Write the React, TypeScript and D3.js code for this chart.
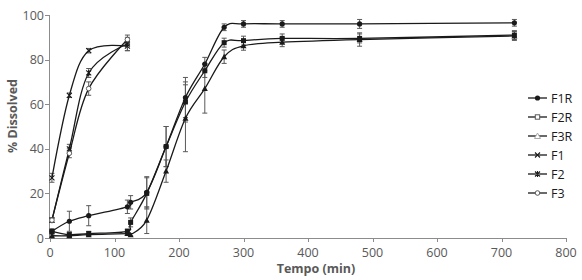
import React from 'react';
import * as d3 from 'd3';

// Sampling times (min)
const timesR = [3, 30, 60, 120, 125, 150, 180, 210, 240, 270, 300, 360, 480, 720];
const timesI = [3, 30, 60, 120];

// % dissolved, mean and SD
const f1r = [3, 7.5, 10, 14, 16, 20.5, 41, 63, 78, 94.5, 96, 96, 96, 96.5];
const f1rErr = [1, 4.5, 4.5, 3, 3, 7, 9, 9, 3, 1.5, 1.5, 1.5, 2, 1.5];
const f2r = [3, 1.5, 2, 3, 7, 20, 41, 61, 75, 87.6, 88.5, 89.5, 89.5, 91];
const f2rErr = [1, 1, 1, 1, 2, 7, 9, 9, 3, 2, 2, 2, 2, 2];
const f3r = [1, 1, 1.5, 2, 1.5, 8, 30, 53.7, 67, 81.3, 86.2, 87.8, 89, 90.6];
const f3rErr = [0.5, 0.5, 0.5, 0.5, 0.5, 6, 5, 15, 11, 3, 2, 2, 3, 2];
const f1 = [27, 64, 84, 86];
const f1Err = [2, 1, 1, 2];
const f2 = [8, 40, 74, 87];
const f2Err = [1, 2, 2, 3];
const f3 = [8, 38, 67, 89];
const f3Err = [1, 2, 3, 2];

const xTicks = [0, 100, 200, 300, 400, 500, 600, 700, 800];
const yTicks = [0, 20, 40, 60, 80, 100];

type Marker = 'dot' | 'square' | 'triangle' | 'cross' | 'star' | 'ring';

const series = [
  { name: 'F1R', t: timesR, v: f1r, e: f1rErr, m: 'dot' as Marker },
  { name: 'F2R', t: timesR, v: f2r, e: f2rErr, m: 'square' as Marker },
  { name: 'F3R', t: timesR, v: f3r, e: f3rErr, m: 'triangle' as Marker },
  { name: 'F1', t: timesI, v: f1, e: f1Err, m: 'cross' as Marker },
  { name: 'F2', t: timesI, v: f2, e: f2Err, m: 'star' as Marker },
  { name: 'F3', t: timesI, v: f3, e: f3Err, m: 'ring' as Marker },
];

const W = 582;
const H = 280;
const INK = '#1a1a1a';
const GREY = '#595959';
const FONT = '"Open Sans", sans-serif';

const x = d3.scaleLinear().domain([0, 800]).range([50, 566]);
const y = d3.scaleLinear().domain([0, 100]).range([238, 15]);

const line = d3.line<[number, number]>()
  .x(d => x(d[0]))
  .y(d => y(d[1]))
  .curve(d3.curveCardinal.tension(0));

function MarkerShape({ m, cx, cy, legend }: { m: Marker; cx: number; cy: number; legend?: boolean }) {
  switch (m) {
    case 'dot':
      return <circle cx={cx} cy={cy} r={2.6} fill={INK} />;
    case 'square':
      return legend
        ? <rect x={cx - 2.2} y={cy - 2.2} width={4.4} height={4.4} fill="#fff" stroke={GREY} strokeWidth={1} />
        : <rect x={cx - 2.5} y={cy - 2.5} width={5} height={5} fill={INK} />;
    case 'triangle':
      return legend
        ? <path d={`M${cx},${cy - 3}L${cx + 3},${cy + 2.5}L${cx - 3},${cy + 2.5}Z`} fill="#fff" stroke="#aaa" strokeWidth={1} />
        : <path d={`M${cx},${cy - 3}L${cx + 3},${cy + 2.5}L${cx - 3},${cy + 2.5}Z`} fill={INK} />;
    case 'cross':
      return <path d={`M${cx - 2.5},${cy - 2.5}L${cx + 2.5},${cy + 2.5}M${cx - 2.5},${cy + 2.5}L${cx + 2.5},${cy - 2.5}`} stroke={INK} strokeWidth={1.1} />;
    case 'star':
      return <path d={`M${cx - 2.5},${cy - 2.5}L${cx + 2.5},${cy + 2.5}M${cx - 2.5},${cy + 2.5}L${cx + 2.5},${cy - 2.5}M${cx},${cy - 3}L${cx},${cy + 3}`} stroke={INK} strokeWidth={1.1} />;
    case 'ring':
      return <circle cx={cx} cy={cy} r={2.3} fill="#fff" stroke={GREY} strokeWidth={1} />;
  }
}

export default function App() {
  return (
    <svg width={W} height={H} style={{ position: 'absolute', left: 0, top: 0, background: '#fff' }} fontFamily={FONT}>
      {/* axes */}
      <line x1={50} x2={566} y1={238.5} y2={238.5} stroke="#8c8c8c" strokeWidth={1} />
      <line x1={49.5} x2={49.5} y1={15} y2={238.5} stroke="#8c8c8c" strokeWidth={1} />
      {xTicks.map(t => (
        <g key={t}>
          <line x1={Math.round(x(t)) + 0.5} x2={Math.round(x(t)) + 0.5} y1={238} y2={242} stroke="#8c8c8c" />
          <text x={x(t)} y={257} textAnchor="middle" fontSize={12.5} fill={GREY}>{t}</text>
        </g>
      ))}
      {yTicks.map(t => (
        <g key={t}>
          <line x1={45} x2={50} y1={Math.round(y(t)) + 0.5} y2={Math.round(y(t)) + 0.5} stroke="#8c8c8c" />
          <text x={44} y={y(t) + 4.5} textAnchor="end" fontSize={12.5} fill={GREY}>{t}</text>
        </g>
      ))}
      <text x={316} y={273} textAnchor="middle" fontSize={12.5} fontWeight="bold" fill={GREY}>Tempo (min)</text>
      <text transform="translate(17,116) rotate(-90)" textAnchor="middle" fontSize={12.5} fontWeight="bold" fill={GREY}>% Dissolved</text>

      {/* error bars */}
      {series.map(s => (
        <g key={s.name + 'e'} stroke={GREY} strokeWidth={1}>
          {s.t.map((t, i) => {
            const cx = x(t);
            const y0 = y(s.v[i] - s.e[i]);
            const y1 = y(s.v[i] + s.e[i]);
            return (
              <g key={i}>
                <line x1={cx} x2={cx} y1={y0} y2={y1} />
                <line x1={cx - 2.5} x2={cx + 2.5} y1={y0} y2={y0} />
                <line x1={cx - 2.5} x2={cx + 2.5} y1={y1} y2={y1} />
              </g>
            );
          })}
        </g>
      ))}

      {/* lines */}
      {series.map(s => (
        <path key={s.name} d={line(s.t.map((t, i) => [t, s.v[i]] as [number, number])) || ''} fill="none" stroke={INK} strokeWidth={1.3} />
      ))}

      {/* markers */}
      {series.map(s => (
        <g key={s.name + 'm'}>
          {s.t.map((t, i) => <MarkerShape key={i} m={s.m} cx={x(t)} cy={y(s.v[i])} />)}
        </g>
      ))}

      {/* legend */}
      {series.map((s, i) => {
        const ly = 98 + i * 19;
        return (
          <g key={s.name + 'l'}>
            <line x1={528} x2={547} y1={ly} y2={ly} stroke={INK} strokeWidth={1.3} />
            <MarkerShape m={s.m} cx={537.5} cy={ly} legend />
            <text x={551} y={ly + 4.5} fontSize={12.5} fill={INK}>{s.name}</text>
          </g>
        );
      })}
    </svg>
  );
}
